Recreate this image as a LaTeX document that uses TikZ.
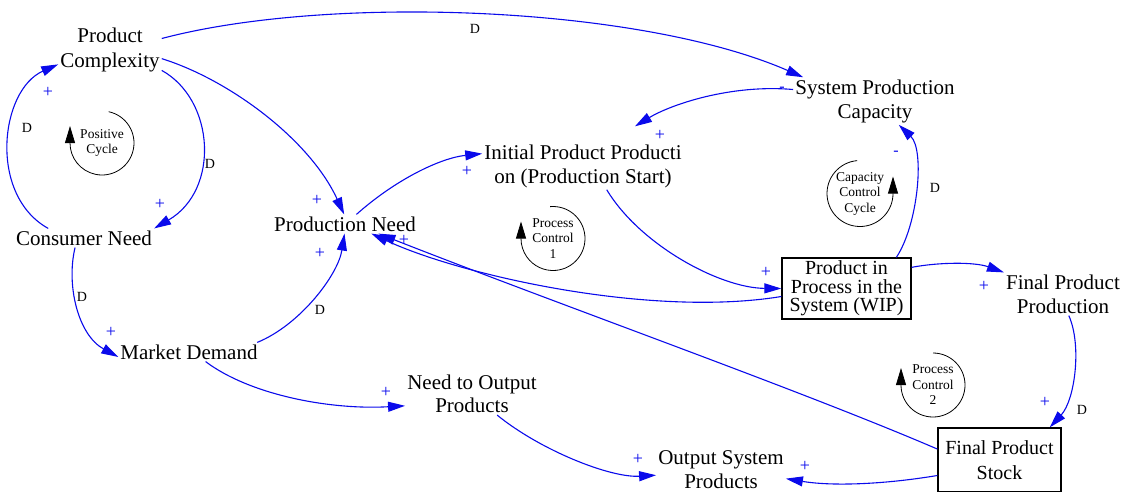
\documentclass[tikz,border=0pt]{standalone}
\usepackage{fontspec}
\setmainfont{Liberation Serif}
\usetikzlibrary{arrows.meta}
\definecolor{lnk}{RGB}{10,10,235}
\tikzset{
  var/.style={align=center, inner sep=2pt, font=\fontsize{21}{24}\selectfont},
  stock/.style={draw, line width=1.3pt, align=center, inner sep=0pt, minimum width=129pt, minimum height=61pt, font=\fontsize{20}{18.5}\selectfont},
  link/.style={draw=lnk, line width=1.1pt, -{Triangle[length=17pt,width=10pt]}},
  pol/.style={text=lnk, inner sep=0pt, font=\fontsize{18}{18}\selectfont},
  neg/.style={text=lnk, inner sep=0pt, font=\fontsize{16}{16}\selectfont},
  dl/.style={inner sep=0pt, font=\fontsize{14}{14}\selectfont},
  loopt/.style={align=center, inner sep=0pt, font=\fontsize{13.5}{15.5}\selectfont},
  looparc/.style={draw=black, line width=0.8pt, -{Triangle[length=17pt,width=10pt]}}
}
\begin{document}
\begin{tikzpicture}[x=1pt,y=1pt]
\useasboundingbox (0,0) rectangle (1129,-491);

% variables
\node[var, font=\fontsize{21}{25}\selectfont] (pcx) at (110,-49.5) {Product\\Complexity};
\node[var] (cn) at (84,-238) {Consumer Need};
\node[var] (md) at (189,-352) {Market Demand};
\node[var] (pn) at (345,-224) {Production Need};
\node[var] (ipp) at (583,-166) {Initial Product Producti\\on (Production Start)};
\node[var] (spc) at (875,-101) {System Production\\Capacity};
\node[stock] (wip) at (846.5,-288.5) {Product in\\Process in the\\System (WIP)};
\node[var] (fpp) at (1063,-294) {Final Product\\Production};
\node[var, font=\fontsize{21}{23}\selectfont] (nop) at (472,-394) {Need to Output\\Products};
\node[var, font=\fontsize{21}{23.5}\selectfont] (osp) at (721,-469.5) {Output System\\Products};
\node[stock, minimum width=123pt, minimum height=64pt, font=\fontsize{20}{25}\selectfont] (fps) at (999.5,-460) {Final Product\\Stock};

% links
\draw[link] (pcx.12) .. controls (330,6) and (640,-6) .. ([xshift=10pt]spc.north west);
\draw[link] (pcx.-10) .. controls (230,-80) and (310,-140) .. (pn.95);
\draw[link] (pcx.-22) .. controls (215,-100) and (220,-190) .. (cn.north east);
\draw[link] (cn.165) .. controls (-12,-195) and (0,-90) .. (pcx.196);
\draw[link] (cn.227) .. controls (66,-285) and (78,-335) .. (md.184);
\draw[link] (md.8) .. controls (300,-325) and (338,-275) .. (pn.-93);
\draw[link] (md.-30) .. controls (250,-395) and (330,-410) .. (nop.190);
\draw[link] (pn.40) .. controls (395,-180) and (440,-158) .. (ipp.173);
\draw[link] (spc.172) .. controls (730,-84) and (670,-105) .. ([shift={(52pt,16pt)}]ipp.north);
\draw[link] (ipp.-45) .. controls (640,-245) and (720,-288) .. (wip.west);
\draw[link] (wip.187) .. controls (650,-318) and (460,-275) .. (pn.-20);
\draw[link] (fps.170) .. controls (800,-390) and (560,-305) .. (pn.-16);
\draw[link] (wip.32) .. controls (918,-225) and (925,-150) .. (spc.-45);
\draw[link] (wip.18) .. controls (940,-262) and (975,-262) .. (fpp.north west);
\draw[link] (fpp.-75) .. controls (1082,-345) and (1075,-400) .. (fps.33);
\draw[link] (nop.-40) .. controls (540,-450) and (610,-478) .. (osp.185);
\draw[link] (fps.194) .. controls (880,-485) and (830,-486) .. (osp.-8);

% delay marks
\node[dl] (d1) at (475,-29) {D};
\node[dl] (d2) at (210,-164) {D};
\node[dl] (d3) at (27,-128) {D};
\node[dl] (d4) at (82,-297) {D};
\node[dl] (d5) at (320,-310) {D};
\node[dl] (d6) at (935,-188) {D};
\node[dl] (d7) at (1082,-410) {D};

% polarities
\node[pol] (p1) at (48,-92) {+};
\node[pol] (p2) at (160,-204) {+};
\node[pol] (p3) at (317,-200) {+};
\node[pol] (p4) at (320,-253) {+};
\node[pol] (p5) at (404,-240) {+};
\node[pol] (p6) at (111,-332) {+};
\node[pol] (p7) at (386,-392) {+};
\node[pol] (p8) at (467,-171) {+};
\node[pol] (p9) at (660,-135) {+};
\node[pol] (p10) at (766,-272) {+};
\node[pol] (p11) at (984,-286) {+};
\node[pol] (p12) at (1045,-402) {+};
\node[pol] (p13) at (638,-459) {+};
\node[pol] (p14) at (805,-466) {+};
\node[neg] (m1) at (782,-89) {-};
\node[neg] (m2) at (896,-153) {-};

% loops
\node[loopt] (l1) at (102,-143) {Positive\\Cycle};
\draw[looparc] ([shift={(78:32pt)}]l1.center) arc[start angle=78, end angle=-180, radius=32pt] -- ++(0,17pt);
\node[loopt] (l2) at (553,-238.5) {Process\\Control\\1};
\draw[looparc] ([shift={(95:32pt)}]l2.center) arc[start angle=95, end angle=-180, radius=32pt] -- ++(0,17pt);
\node[loopt] (l3) at (860,-193.5) {Capacity\\Control\\Cycle};
\draw[looparc] ([shift={(95:33pt)}]l3.center) arc[start angle=95, end angle=360, radius=33pt] -- ++(0,17pt);
\node[loopt] (l4) at (933,-385) {Process\\Control\\2};
\draw[looparc] ([shift={(90:32pt)}]l4.center) arc[start angle=90, end angle=-180, radius=32pt] -- ++(0,17pt);
\end{tikzpicture}
\end{document}
